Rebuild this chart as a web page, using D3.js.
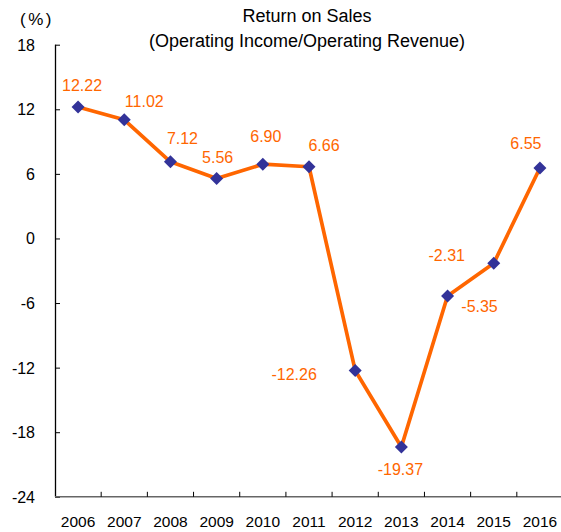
<!DOCTYPE html>
<html>
<head>
<meta charset="utf-8">
<style>
  body { margin: 0; background: #fff; }
  svg { font-family: "Liberation Sans", Arial, sans-serif; }
</style>
</head>
<body>
<svg id="chart" width="561" height="532"></svg>
<script src="https://d3js.org/d3.v7.min.js"></script>
<script>

var years = ["2006", "2007", "2008", "2009", "2010", "2011", "2012", "2013", "2014", "2015", "2016"];
var returnOnSales = [12.22, 11.02, 7.12, 5.56, 6.90, 6.66, -12.26, -19.37, -5.35, -2.31, 6.55];
var yTicks = [-24, -18, -12, -6, 0, 6, 12, 18];

// where each value label sits relative to its point (px)
var labelOffsets = [[4, -16], [20, -13], [12, -18], [1, -16], [3, -22], [15, -16],
                    [-61, 10], [-1, 28], [32, 16], [-47, -2], [-14, -19]];

var svg = d3.select("#chart");
var margin = {left: 55, top: 44.7, right: 563, bottom: 496.8};

var x = d3.scaleBand()
    .domain(years)
    .range([margin.left, margin.right]);

var y = d3.scaleLinear()
    .domain([-24, 18])
    .range([margin.bottom, margin.top]);

// titles
svg.append("text")
    .attr("x", 307).attr("y", 22)
    .attr("text-anchor", "middle")
    .style("font-size", "18px")
    .text("Return on Sales");
svg.append("text")
    .attr("x", 307).attr("y", 47)
    .attr("text-anchor", "middle")
    .style("font-size", "18px")
    .text("(Operating Income/Operating Revenue)");
svg.append("text")
    .attr("x", 37).attr("y", 25)
    .attr("text-anchor", "middle")
    .style("font-size", "17px")
    .style("letter-spacing", "2.5px")
    .text("(%)");

// y axis
var yAxis = svg.append("g")
    .attr("transform", "translate(" + margin.left + ",0)")
    .call(d3.axisRight(y).tickValues(yTicks).tickSize(5).tickFormat(""));
yAxis.select(".domain").attr("stroke", "#000").attr("stroke-width", 1.3)
    .attr("d", "M0.5," + margin.top + "V" + margin.bottom);
yAxis.selectAll(".tick line").attr("stroke", "#000");

svg.append("g").selectAll("text")
    .data(yTicks)
    .enter().append("text")
    .attr("x", 35)
    .attr("y", d => y(d) + 6)
    .attr("text-anchor", "end")
    .style("font-size", "16px")
    .text(d => d);

// x axis
var xAxis = svg.append("g")
    .attr("transform", "translate(0," + margin.bottom + ")");
xAxis.append("line")
    .attr("x1", margin.left).attr("x2", margin.right)
    .attr("stroke", "#666").attr("stroke-width", 1.6);
xAxis.selectAll(".xtick")
    .data(years.slice(1))
    .enter().append("line")
    .attr("x1", d => x(d)).attr("x2", d => x(d))
    .attr("y1", 0).attr("y2", -5)
    .attr("stroke", "#000");
xAxis.selectAll("text")
    .data(years)
    .enter().append("text")
    .attr("x", d => x(d) + x.bandwidth() / 2)
    .attr("y", 30)
    .attr("text-anchor", "middle")
    .style("font-size", "15.5px")
    .text(d => d);

var points = years.map((yr, i) => ({year: yr, value: returnOnSales[i], off: labelOffsets[i]}));

var line = d3.line()
    .x(d => x(d.year) + x.bandwidth() / 2)
    .y(d => y(d.value));

svg.append("path")
    .datum(points)
    .attr("fill", "none")
    .attr("stroke", "#FF6600")
    .attr("stroke-width", 3.7)
    .attr("stroke-linejoin", "round")
    .attr("d", line);

svg.selectAll(".marker")
    .data(points)
    .enter().append("path")
    .attr("class", "marker")
    .attr("transform", d => "translate(" + (x(d.year) + x.bandwidth() / 2) + "," + y(d.value) + ")")
    .attr("d", "M0,-6.5L6.5,0L0,6.5L-6.5,0Z")
    .attr("fill", "#333399");

svg.selectAll(".vlabel")
    .data(points)
    .enter().append("text")
    .attr("class", "vlabel")
    .attr("x", d => x(d.year) + x.bandwidth() / 2 + d.off[0])
    .attr("y", d => y(d.value) + d.off[1])
    .attr("text-anchor", "middle")
    .attr("fill", "#FF6600")
    .style("font-size", "16px")
    .text(d => d.value.toFixed(2));

</script>
</body>
</html>
